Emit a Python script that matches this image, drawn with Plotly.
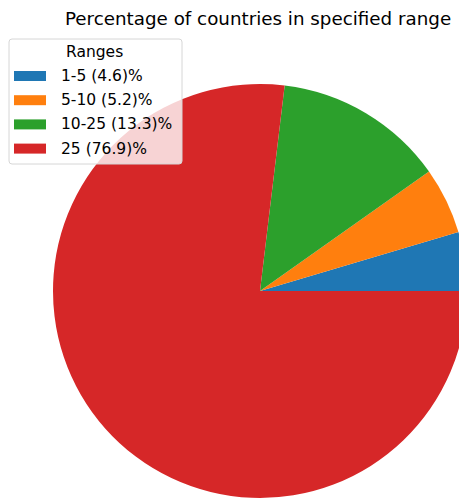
import plotly.graph_objects as go

labels = ["1-5 (4.6)%", "5-10 (5.2)%", "10-25 (13.3)%", "25 (76.9)%"]
values = [4.6, 5.2, 13.3, 76.9]
colors = ["#1f77b4", "#ff7f0e", "#2ca02c", "#d62728"]
title_text = "Percentage of countries in specified range"
legend_title = "Ranges"

WIN_W, WIN_H = 467, 501
OFF = 8  # default body margin of the html page
W, H = WIN_W - OFF, WIN_H - OFF

def px(x):
    return (x - OFF) / W

def py(y):
    return 1 - (y - OFF) / H

first_share = values[0] / sum(values) * 360

fig = go.Figure()
fig.add_trace(go.Pie(
    labels=labels,
    values=values,
    marker=dict(colors=colors, line=dict(width=0)),
    sort=False,
    direction="counterclockwise",
    rotation=90 - first_share,
    textinfo="none",
    hoverinfo="label+value",
    showlegend=False,
    domain=dict(x=[px(53), 1.0], y=[py(499), py(83)]),
))

shapes = []
annotations = []

x0, x1, y0, y1, r = 9, 182, 39, 164, 3
path = (f"M {px(x0+r)},{py(y0)} L {px(x1-r)},{py(y0)} Q {px(x1)},{py(y0)} {px(x1)},{py(y0+r)} "
        f"L {px(x1)},{py(y1-r)} Q {px(x1)},{py(y1)} {px(x1-r)},{py(y1)} "
        f"L {px(x0+r)},{py(y1)} Q {px(x0)},{py(y1)} {px(x0)},{py(y1-r)} "
        f"L {px(x0)},{py(y0+r)} Q {px(x0)},{py(y0)} {px(x0+r)},{py(y0)} Z")
shapes.append(dict(type="path", xref="paper", yref="paper", path=path,
                   fillcolor="rgba(255,255,255,0.8)", line=dict(color="#d6d6d6", width=1),
                   layer="above"))

annotations.append(dict(text=legend_title, x=px(94), y=py(52), xref="paper", yref="paper",
                        xanchor="center", yanchor="middle", showarrow=False,
                        font=dict(family="DejaVu Sans", size=15.5, color="#000000")))

for i, (lab, col) in enumerate(zip(labels, colors)):
    yc = 76 + i * 24.2
    shapes.append(dict(type="rect", xref="paper", yref="paper",
                       x0=px(14), x1=px(46), y0=py(yc - 5), y1=py(yc + 5),
                       fillcolor=col, line=dict(width=0), layer="above"))
    annotations.append(dict(text=lab, x=px(59), y=py(yc), xref="paper", yref="paper",
                            xanchor="left", yanchor="middle", showarrow=False,
                            font=dict(family="DejaVu Sans", size=15.5, color="#000000")))

annotations.append(dict(text=title_text, x=px(258), y=py(18), xref="paper", yref="paper",
                        xanchor="center", yanchor="middle", showarrow=False,
                        font=dict(family="DejaVu Sans", size=18.3, color="#000000")))

fig.update_layout(
    width=W, height=H,
    margin=dict(l=0, r=0, t=0, b=0),
    paper_bgcolor="white",
    plot_bgcolor="white",
    shapes=shapes,
    annotations=annotations,
)

fig.write_html("out.html")
